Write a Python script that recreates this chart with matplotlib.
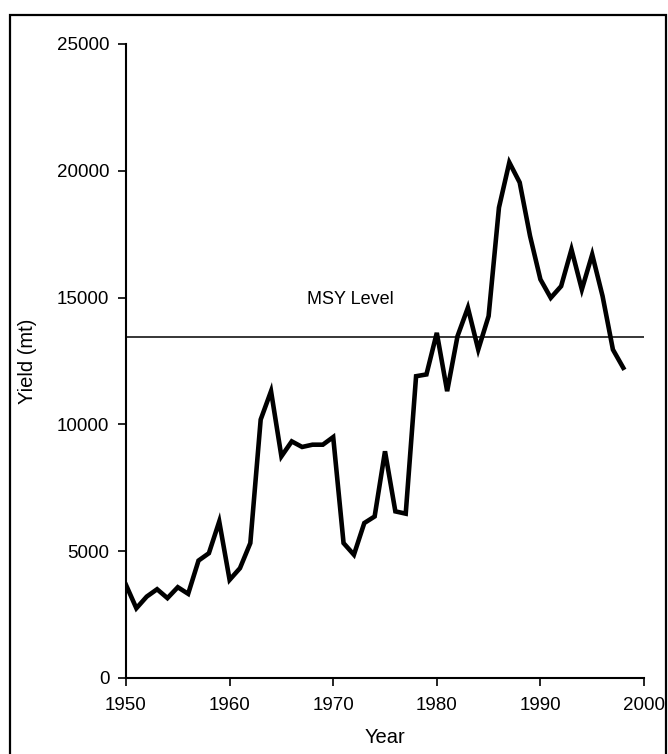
import matplotlib
matplotlib.use("Agg")
import matplotlib.pyplot as plt
from matplotlib.patches import Rectangle

plt.rcParams['font.family'] = ['Liberation Sans', 'DejaVu Sans']

# Annual yield (metric tonnes)
years = list(range(1950, 1999))
yield_mt = [3670, 2750, 3210, 3500, 3150, 3580, 3320, 4630, 4920, 6170,
            3870, 4330, 5320, 10190, 11310, 8740, 9330, 9110, 9200, 9200,
            9500, 5320, 4860, 6110, 6370, 8940, 6570, 6480, 11900, 11970,
            13610, 11310, 13480, 14600, 12950, 14270, 18550, 20330, 19540, 17430,
            15720, 14990, 15450, 16900, 15320, 16700, 15060, 12950, 12230]

msy_level = 13440
msy_label = "MSY Level"

x_ticks = [1950, 1960, 1970, 1980, 1990, 2000]
y_ticks = [0, 5000, 10000, 15000, 20000, 25000]

fig = plt.figure(figsize=(6.68, 7.54), dpi=100)

# outer frame around the whole chart
fig.patches.append(Rectangle((10 / 668, -0.02), 656 / 668, 1 - 15 / 754 + 0.02,
                             transform=fig.transFigure, fill=False,
                             edgecolor='black', linewidth=1.6))

ax = fig.add_axes([126 / 668, 76 / 754, 518 / 668, 634 / 754])
ax.plot(years, yield_mt, color='black', linewidth=3.3, solid_joinstyle='miter')
ax.plot([1950, 2000], [msy_level, msy_level], color='black', linewidth=1.1)
ax.text(1971.7, 14930, msy_label, ha='center', va='center', fontsize=13)

ax.set_xlim(1950, 2000)
ax.set_ylim(0, 25000)
ax.set_xticks(x_ticks)
ax.set_yticks(y_ticks)
ax.tick_params(axis='both', direction='out', length=6, width=1.2,
               labelsize=13.5, colors='black')
ax.tick_params(axis='x', pad=8)
ax.tick_params(axis='y', pad=6)
for side in ('top', 'right'):
    ax.spines[side].set_visible(False)
for side in ('left', 'bottom'):
    ax.spines[side].set_linewidth(1.5)

ax.set_xlabel("Year", fontsize=14.5, labelpad=10)
ax.set_ylabel("Yield (mt)", fontsize=14.5, labelpad=14)

fig.savefig("out.png", dpi=100)
